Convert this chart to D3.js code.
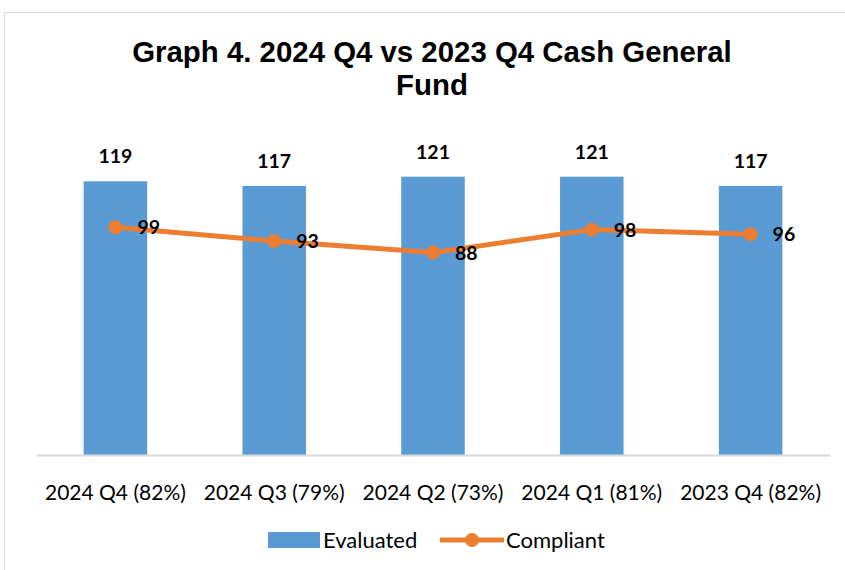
<!DOCTYPE html>
<html>
<head>
<meta charset="utf-8">
<script src="https://cdn.jsdelivr.net/npm/d3@7"></script>
<style>
  body { margin: 0; background: #fff; }
  svg { display: block; }
</style>
</head>
<body>
<div id="chart"></div>
<script>
const categories = ["2024 Q4 (82%)", "2024 Q3 (79%)", "2024 Q2 (73%)", "2024 Q1 (81%)", "2023 Q4 (82%)"];
const evaluated = [119, 117, 121, 121, 117];
const compliant = [99, 93, 88, 98, 96];

const width = 845;
const height = 570;
const margin = {left: 36, right: 15, top: 133, bottom: 115};
const labelFont = "Lato, 'Open Sans', sans-serif";

const svg = d3.select("#chart").append("svg")
    .attr("width", width)
    .attr("height", height);

svg.append("rect")
    .attr("width", width).attr("height", height)
    .attr("fill", "#fff");

// chart frame, runs off the right and bottom edges
svg.append("rect")
    .attr("x", 4.5).attr("y", 12.5)
    .attr("width", width + 10).attr("height", height)
    .attr("fill", "none")
    .attr("stroke", "#d9d9d9")
    .attr("stroke-width", 1);

// title
const title = svg.append("text")
    .attr("text-anchor", "middle")
    .attr("font-family", "'Liberation Sans', Arial, sans-serif")
    .attr("font-weight", "bold")
    .attr("font-size", 29.4)
    .attr("fill", "#000");
title.append("tspan").attr("x", 432).attr("y", 62).text("Graph 4. 2024 Q4 vs 2023 Q4 Cash General");
title.append("tspan").attr("x", 432).attr("y", 95).text("Fund");

const x = d3.scaleBand()
    .domain(categories)
    .range([margin.left, width - margin.right])
    .paddingInner(0.6)
    .paddingOuter(0.3);

const y = d3.scaleLinear()
    .domain([0, 140])
    .range([height - margin.bottom, margin.top]);

const bw = x.bandwidth();

// bars
svg.selectAll(".bar").data(evaluated).enter().append("rect")
    .attr("class", "bar")
    .attr("x", (d, i) => x(categories[i]))
    .attr("y", d => y(d))
    .attr("width", bw)
    .attr("height", d => y(0) - y(d))
    .attr("fill", "#5b9bd5");

// axis
const xAxis = svg.append("g")
    .attr("transform", `translate(0,${y(0)})`)
    .call(d3.axisBottom(x).tickSize(0).tickPadding(30));
xAxis.select(".domain")
    .attr("stroke", "#d9d9d9")
    .attr("stroke-width", 2);
xAxis.selectAll("text")
    .attr("font-family", labelFont)
    .attr("font-size", 21)
    .attr("fill", "#000");

// bar labels
svg.selectAll(".bar-label").data(evaluated).enter().append("text")
    .attr("x", (d, i) => x(categories[i]) + bw / 2)
    .attr("y", d => y(d) - 18)
    .attr("text-anchor", "middle")
    .attr("font-family", labelFont)
    .attr("font-weight", "bold")
    .attr("font-size", 19.5)
    .text(d => d);

// line
const cx = (d, i) => x(categories[i]) + bw / 2;
const line = d3.line()
    .x(cx)
    .y(d => y(d));

svg.append("path")
    .datum(compliant)
    .attr("d", line)
    .attr("fill", "none")
    .attr("stroke", "#ed7d31")
    .attr("stroke-width", 5)
    .attr("stroke-linejoin", "round");

svg.selectAll(".dot").data(compliant).enter().append("circle")
    .attr("cx", cx)
    .attr("cy", d => y(d))
    .attr("r", 7)
    .attr("fill", "#ed7d31");

svg.selectAll(".line-label").data(compliant).enter().append("text")
    .attr("x", (d, i) => cx(d, i) + 22)
    .attr("y", d => y(d) + 7)
    .attr("font-family", labelFont)
    .attr("font-weight", "bold")
    .attr("font-size", 19.5)
    .text(d => d);

// legend
const legend = svg.append("g").attr("transform", "translate(268,540)");
legend.append("rect")
    .attr("x", 0).attr("y", -8)
    .attr("width", 52).attr("height", 16)
    .attr("fill", "#5b9bd5");
legend.append("text")
    .attr("x", 55).attr("y", 8)
    .attr("font-family", labelFont)
    .attr("font-size", 22)
    .text("Evaluated");
legend.append("line")
    .attr("x1", 172).attr("x2", 236)
    .attr("y1", 0).attr("y2", 0)
    .attr("stroke", "#ed7d31")
    .attr("stroke-width", 5);
legend.append("circle")
    .attr("cx", 204).attr("cy", 0).attr("r", 7)
    .attr("fill", "#ed7d31");
legend.append("text")
    .attr("x", 238).attr("y", 8)
    .attr("font-family", labelFont)
    .attr("font-size", 22)
    .text("Compliant");
</script>
</body>
</html>
